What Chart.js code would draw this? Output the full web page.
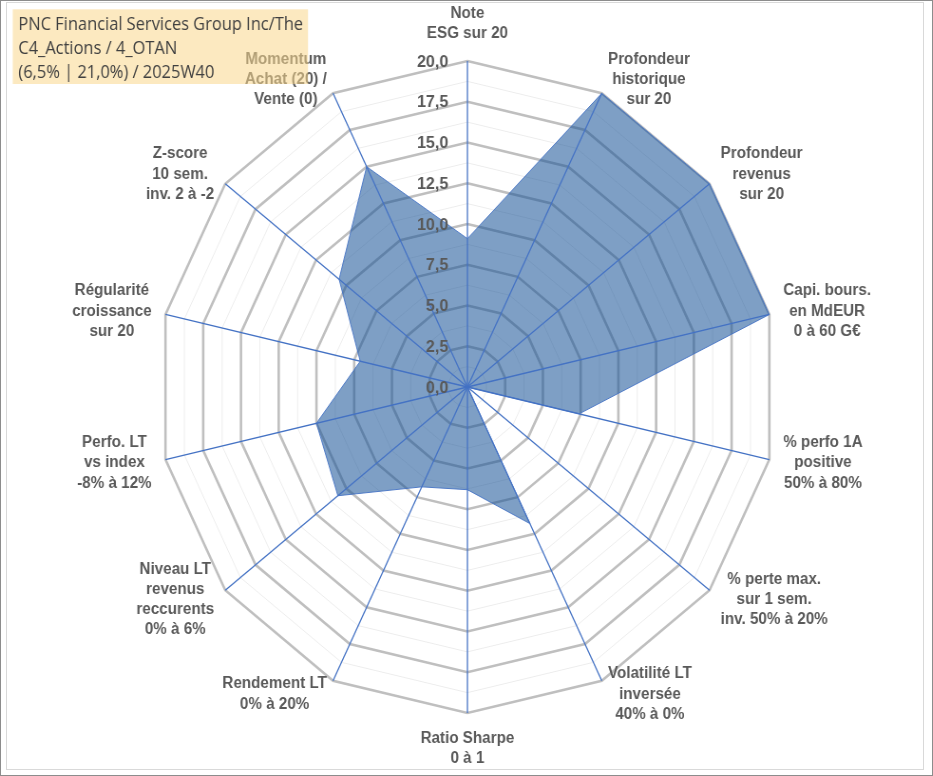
<!DOCTYPE html>
<html>
<head>
<meta charset="utf-8">
<script src="https://cdn.jsdelivr.net/npm/chart.js@4"></script>
<style>
  html, body { margin: 0; padding: 0; background: #fff; overflow: hidden; }
  #wrap { position: absolute; left: 0; top: 0; width: 982px; height: 776px; transform: scaleX(0.95); transform-origin: 0 0; }
  #outer { position: absolute; left: 0; top: 0; width: 933px; height: 776px; box-sizing: border-box; border: 1px solid #8c8c8c; pointer-events: none; }
  #inner { position: absolute; left: 6px; top: 2px; width: 918px; height: 768px; box-sizing: border-box; border: 1px solid #d9d9d9; pointer-events: none; }
</style>
</head>
<body>
<div id="wrap"><canvas id="radar"></canvas></div>
<div id="outer"></div>
<div id="inner"></div>
<script>
// axes, clockwise from the top
const axisLabels = [
    ['Note', 'ESG sur 20'],
    ['Profondeur', 'historique', 'sur 20'],
    ['Profondeur', 'revenus', 'sur 20'],
    ['Capi. bours.', 'en MdEUR', '0 à 60 G€'],
    ['% perfo 1A', 'positive', '50% à 80%'],
    ['% perte max.', 'sur 1 sem.', 'inv. 50% à 20%'],
    ['Volatilité LT', 'inversée', '40% à 0%'],
    ['Ratio Sharpe', '0 à 1'],
    ['Rendement LT', '0% à 20%'],
    ['Niveau LT', 'revenus', 'reccurents', '0% à 6%'],
    ['Perfo. LT', 'vs index', '-8% à 12%'],
    ['Régularité', 'croissance', 'sur 20'],
    ['Z-score', '10 sem.', 'inv. 2 à -2'],
    ['Momentum', 'Achat (20) /', 'Vente (0)'],
];

// scores sur 20
const scores = [9.1, 20, 20, 20, 7.4, 0, 9.3, 6.3, 6.8, 10.7, 10.0, 7.1, 10.6, 15.0];

const tickValues = [0, 2.5, 5, 7.5, 10, 12.5, 15, 17.5, 20];
const tickLabels = ['0,0', '2,5', '5,0', '7,5', '10,0', '12,5', '15,0', '17,5', '20,0'];

const titleLines = [
    'PNC Financial Services Group Inc/The',
    'C4_Actions / 4_OTAN',
    '(6,5% | 21,0%) / 2025W40',
];

const labelFont = 'bold 16px "Liberation Sans", Arial, sans-serif';
const labelColor = '#595959';

const overlay = {
    id: 'overlay',
    afterDatasetsDraw(chart) {
        const ctx = chart.ctx;
        const r = chart.scales.r;
        const n = chart.data.labels.length;

        // axis lines sit on top of the filled area
        ctx.save();
        ctx.strokeStyle = '#4472c4';
        ctx.lineWidth = 1.3;
        for (let i = 0; i < n; i++) {
            const p = r.getPointPosition(i, r.drawingArea);
            ctx.beginPath();
            ctx.moveTo(r.xCenter, r.yCenter);
            ctx.lineTo(p.x, p.y);
            ctx.stroke();
        }
        ctx.restore();

        // tick labels, left of the vertical axis
        ctx.save();
        ctx.font = 'bold 17px "Liberation Sans", Arial, sans-serif';
        ctx.fillStyle = labelColor;
        ctx.textAlign = 'right';
        ctx.textBaseline = 'middle';
        tickValues.forEach((v, k) => {
            const y = r.yCenter - r.getDistanceFromCenterForValue(v);
            ctx.fillText(tickLabels[k], r.xCenter - 20, y + 1);
        });
        ctx.restore();

        // point labels
        ctx.save();
        ctx.font = labelFont;
        ctx.fillStyle = labelColor;
        ctx.textAlign = 'center';
        ctx.textBaseline = 'middle';
        const lineH = 20.3;
        for (let i = 0; i < n; i++) {
            const lines = chart.data.labels[i];
            const p = r.getPointPosition(i, r.drawingArea + 15);
            const deg = Math.round(r.getIndexAngle(i) * 180 / Math.PI) % 360;
            const w = Math.max(...lines.map((s) => ctx.measureText(s).width));
            const h = lines.length * lineH;
            let cx, y0;
            if (deg === 0) {
                cx = p.x;
                y0 = p.y - h + lineH / 2 - 2;
            } else if (deg === 180) {
                cx = p.x;
                y0 = p.y + lineH / 2;
            } else {
                cx = deg < 180 ? p.x + w / 2 : p.x - w / 2;
                y0 = p.y - h / 2 + lineH / 2;
            }
            lines.forEach((s, k) => ctx.fillText(s, cx, y0 + k * lineH));
        }
        ctx.restore();
    },
    afterDraw(chart) {
        const ctx = chart.ctx;
        ctx.save();
        ctx.fillStyle = 'rgba(250, 215, 140, 0.55)';
        ctx.fillRect(13.4, 9.3, 310.8, 74.7);
        ctx.font = '16px "Open Sans", sans-serif';
        const size = Math.min(19, 16 * 300 / ctx.measureText(titleLines[0]).width);
        ctx.font = size.toFixed(2) + 'px "Open Sans", sans-serif';
        ctx.fillStyle = '#404040';
        ctx.textAlign = 'left';
        ctx.textBaseline = 'middle';
        titleLines.forEach((s, k) => ctx.fillText(s, 19.3, 25 + k * 24));
        ctx.restore();
    },
};

new Chart(document.getElementById('radar').getContext('2d'), {
    type: 'radar',
    data: {
        labels: axisLabels,
        datasets: [
            {
                data: scores,
                fill: true,
                backgroundColor: 'rgba(20, 80, 150, 0.55)',
                borderColor: 'rgba(68, 114, 196, 0.9)',
                borderWidth: 1,
                pointRadius: 0,
            },
        ],
    },
    options: {
        responsive: true,
        maintainAspectRatio: false,
        animation: false,
        layout: { padding: { top: 61, bottom: 63, left: 166, right: 164 } },
        plugins: {
            legend: { display: false },
            tooltip: { enabled: false },
        },
        scales: {
            r: {
                min: 0,
                max: 20,
                ticks: { stepSize: 1.25, display: false },
                pointLabels: { display: false },
                angleLines: { display: false },
                grid: {
                    circular: false,
                    color: (c) => (c.tick && c.tick.value % 2.5 === 0 ? '#bfbfbf' : '#ededed'),
                    lineWidth: (c) => (c.tick && c.tick.value % 2.5 === 0 ? 2.6 : 1),
                },
            },
        },
    },
    plugins: [overlay],
});
</script>
</body>
</html>
